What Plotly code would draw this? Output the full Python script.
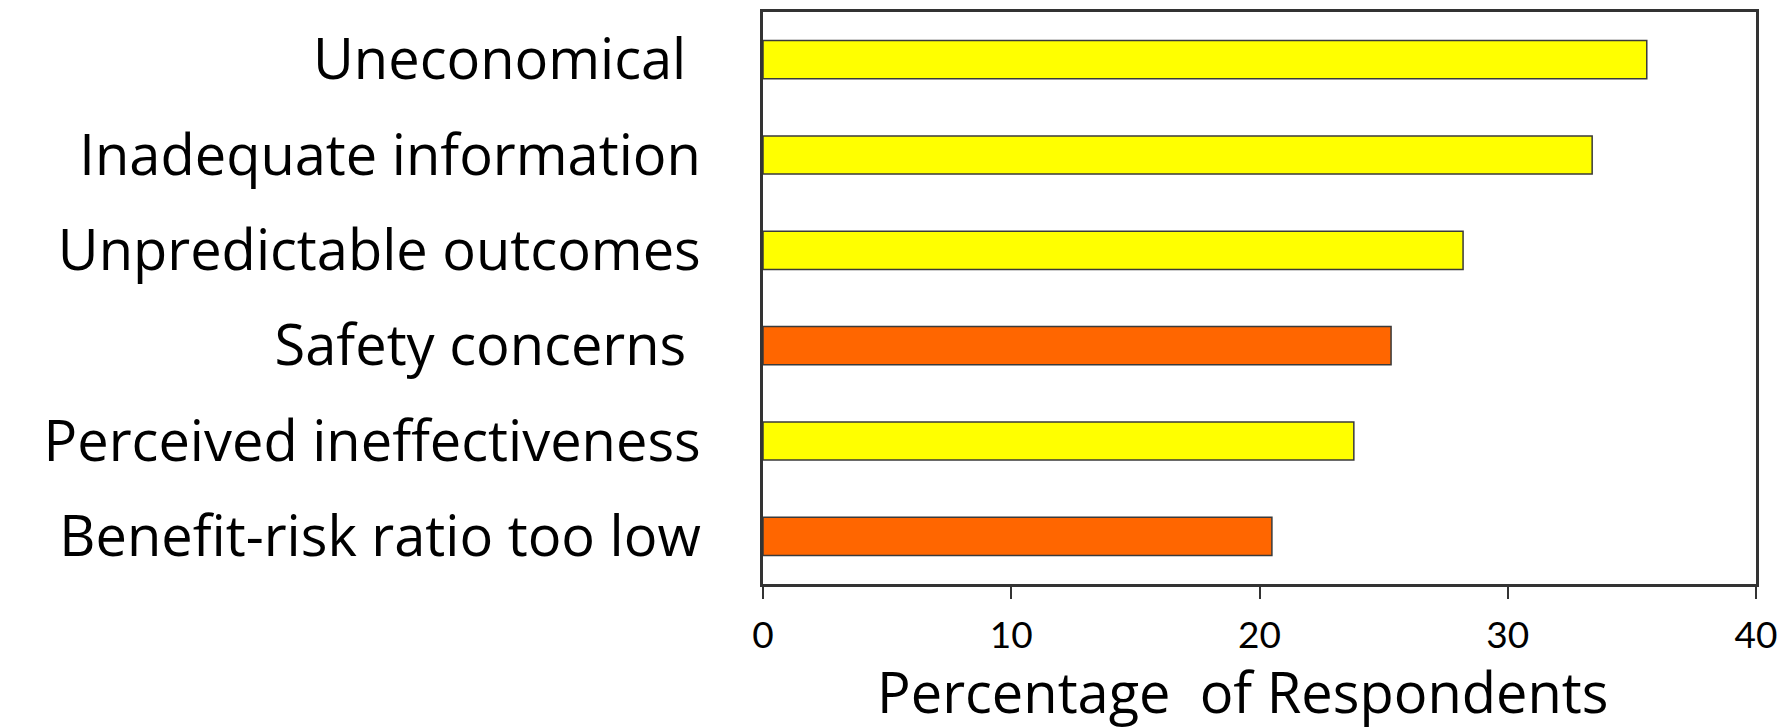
import plotly.graph_objects as go

# Reasons given by respondents, listed top to bottom
categories = [
    "Uneconomical\u00a0",
    "Inadequate information",
    "Unpredictable outcomes",
    "Safety concerns\u00a0",
    "Perceived ineffectiveness",
    "Benefit-risk ratio too low",
]
percentages = [35.6, 33.4, 28.2, 25.3, 23.8, 20.5]
bar_colors = ["#FFFF00", "#FFFF00", "#FFFF00", "#FF6600", "#FFFF00", "#FF6600"]
x_ticks = [0, 10, 20, 30, 40]
x_title = "Percentage  of Respondents"

LABEL_FONT = "'Open Sans', Lato, sans-serif"
TICK_FONT = "Lato, 'Open Sans', sans-serif"

fig = go.Figure(
    go.Bar(
        x=percentages,
        y=categories,
        orientation="h",
        width=0.4,
        marker=dict(color=bar_colors, line=dict(color="#3a3a3a", width=1.5)),
    )
)

fig.update_layout(
    width=1788,
    height=728,
    margin=dict(l=763, r=32, t=9, b=144),
    paper_bgcolor="white",
    plot_bgcolor="white",
    showlegend=False,
    font=dict(family=LABEL_FONT, color="black"),
)

fig.update_xaxes(
    range=[0, 40],
    tickvals=x_ticks,
    ticks="outside",
    ticklen=12,
    tickwidth=2,
    tickcolor="#333",
    tickfont=dict(size=37, family=TICK_FONT),
    ticklabelstandoff=5,
    showgrid=False,
    zeroline=False,
    showline=True,
    linecolor="#333",
    linewidth=3,
    mirror=True,
)

# categoryarray runs bottom to top
fig.update_yaxes(
    categoryorder="array",
    categoryarray=categories[::-1],
    ticks="",
    tickfont=dict(size=56, family=LABEL_FONT),
    ticklabelstandoff=48,
    showgrid=False,
    zeroline=False,
    showline=True,
    linecolor="#333",
    linewidth=3,
    mirror=True,
)

# x-axis title placed as an annotation below the tick labels
fig.add_annotation(
    text=x_title,
    xref="paper",
    yref="paper",
    x=0.483,
    y=0,
    yshift=-107,
    xanchor="center",
    yanchor="middle",
    showarrow=False,
    font=dict(size=56, family=LABEL_FONT, color="black"),
)

fig.write_html("out.html")
